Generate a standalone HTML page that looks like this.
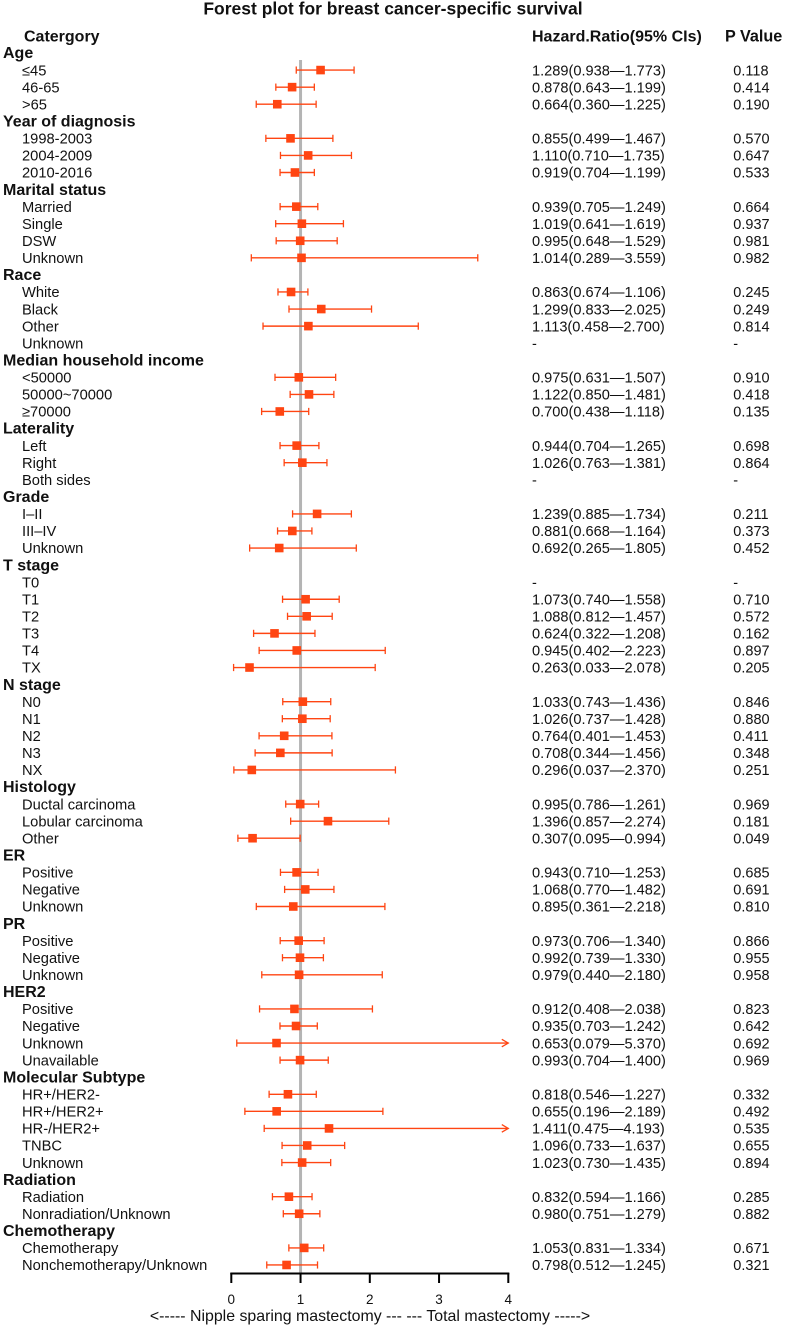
<!DOCTYPE html>
<html lang="en">
<head>
<meta charset="utf-8">
<title>Forest plot for breast cancer-specific survival</title>
<style>
html,body{margin:0;padding:0;background:#fff;}
svg{display:block;font-family:"Liberation Sans",Arial,sans-serif;fill:#111;}
</style>
</head>
<body>
<svg id="chart" xmlns="http://www.w3.org/2000/svg" width="785" height="1327" viewBox="0 0 785 1327">
  <text x="393" y="14.5" text-anchor="middle" font-size="17.5" font-weight="bold">Forest plot for breast cancer-specific survival</text>
  <text x="24" y="41.5" font-size="16" font-weight="bold">Catergory</text>
  <text x="532" y="41.5" font-size="16" font-weight="bold">Hazard.Ratio(95% CIs)</text>
  <text x="725" y="41.5" font-size="16.2" font-weight="bold">P Value</text>
  <text x="370" y="1321" text-anchor="middle" font-size="15.9">&lt;----- Nipple sparing mastectomy --- --- Total mastectomy -----&gt;</text>
</svg>
<script>
const categories = ["Age","≤45","46-65",">65","Year of diagnosis","1998-2003","2004-2009","2010-2016","Marital status","Married","Single","DSW","Unknown","Race","White","Black","Other","Unknown","Median household income","<50000","50000~70000","≥70000","Laterality","Left","Right","Both sides","Grade","I–II","III–IV","Unknown","T stage","T0","T1","T2","T3","T4","TX","N stage","N0","N1","N2","N3","NX","Histology","Ductal carcinoma","Lobular carcinoma","Other","ER","Positive","Negative","Unknown","PR","Positive","Negative","Unknown","HER2","Positive","Negative","Unknown","Unavailable","Molecular Subtype","HR+/HER2-","HR+/HER2+","HR-/HER2+","TNBC","Unknown","Radiation","Radiation","Nonradiation/Unknown","Chemotherapy","Chemotherapy","Nonchemotherapy/Unknown"];
const groupHeaderRows = [0,4,8,13,18,22,26,30,37,43,47,51,55,60,66,69];
const hazardRatios = [null,1.289,0.878,0.664,null,0.855,1.110,0.919,null,0.939,1.019,0.995,1.014,null,0.863,1.299,1.113,null,null,0.975,1.122,0.700,null,0.944,1.026,null,null,1.239,0.881,0.692,null,null,1.073,1.088,0.624,0.945,0.263,null,1.033,1.026,0.764,0.708,0.296,null,0.995,1.396,0.307,null,0.943,1.068,0.895,null,0.973,0.992,0.979,null,0.912,0.935,0.653,0.993,null,0.818,0.655,1.411,1.096,1.023,null,0.832,0.980,null,1.053,0.798];
const ciLower = [null,0.938,0.643,0.360,null,0.499,0.710,0.704,null,0.705,0.641,0.648,0.289,null,0.674,0.833,0.458,null,null,0.631,0.850,0.438,null,0.704,0.763,null,null,0.885,0.668,0.265,null,null,0.740,0.812,0.322,0.402,0.033,null,0.743,0.737,0.401,0.344,0.037,null,0.786,0.857,0.095,null,0.710,0.770,0.361,null,0.706,0.739,0.440,null,0.408,0.703,0.079,0.704,null,0.546,0.196,0.475,0.733,0.730,null,0.594,0.751,null,0.831,0.512];
const ciUpper = [null,1.773,1.199,1.225,null,1.467,1.735,1.199,null,1.249,1.619,1.529,3.559,null,1.106,2.025,2.700,null,null,1.507,1.481,1.118,null,1.265,1.381,null,null,1.734,1.164,1.805,null,null,1.558,1.457,1.208,2.223,2.078,null,1.436,1.428,1.453,1.456,2.370,null,1.261,2.274,0.994,null,1.253,1.482,2.218,null,1.340,1.330,2.180,null,2.038,1.242,5.370,1.400,null,1.227,2.189,4.193,1.637,1.435,null,1.166,1.279,null,1.334,1.245];
const pValues = [null,0.118,0.414,0.190,null,0.570,0.647,0.533,null,0.664,0.937,0.981,0.982,null,0.245,0.249,0.814,null,null,0.910,0.418,0.135,null,0.698,0.864,null,null,0.211,0.373,0.452,null,null,0.710,0.572,0.162,0.897,0.205,null,0.846,0.880,0.411,0.348,0.251,null,0.969,0.181,0.049,null,0.685,0.691,0.810,null,0.866,0.955,0.958,null,0.823,0.642,0.692,0.969,null,0.332,0.492,0.535,0.655,0.894,null,0.285,0.882,null,0.671,0.321];
const xTicks = [0,1,2,3,4];

const xScale = v => 231.3 + v * 69.25;
const yScale = i => 53 + i * 17.07;
const axisMax = xTicks[xTicks.length - 1];
const accent = "#ff4512";
const ns = "http://www.w3.org/2000/svg";
const svg = document.getElementById("chart");

function make(tag, attrs, content) {
  const el = document.createElementNS(ns, tag);
  for (const k in attrs) el.setAttribute(k, attrs[k]);
  if (content !== undefined) el.textContent = content;
  svg.appendChild(el);
  return el;
}

const refLine = make("line", {x1: xScale(1), x2: xScale(1), y1: 60, y2: 1274, stroke: "#b4b4b4", "stroke-width": 3});



categories.forEach((name, i) => {
  const y = yScale(i);
  const isGroup = groupHeaderRows.includes(i);
  const label = make("text", {x: isGroup ? 3 : 22, y: y + 5.2, "font-size": isGroup ? 16 : 14.7, "font-weight": isGroup ? "bold" : "normal"}, name);
  
  
  if (isGroup) return;

  const hr = hazardRatios[i];
  const hrText = make("text", {x: 532, y: y + 5.2, "font-size": 14.6}, hr === null ? "-" : hr.toFixed(3) + "(" + ciLower[i].toFixed(3) + "—" + ciUpper[i].toFixed(3) + ")");
  
  
  const pText = make("text", {x: 733.3, y: y + 5.2, "font-size": 14.5}, pValues[i] === null ? "-" : pValues[i].toFixed(3));
  
  
  if (hr === null) return;

  const x0 = xScale(ciLower[i]);
  const clipped = ciUpper[i] > axisMax;
  const x1 = xScale(Math.min(ciUpper[i], axisMax));
  const ciLine = make("line", {x1: x0, x2: x1, y1: y, y2: y, stroke: accent, "stroke-width": 1.4});
  
  
  const lowCap = make("line", {x1: x0, x2: x0, y1: y - 3.6, y2: y + 3.6, stroke: accent, "stroke-width": 1.3});
  
  
  if (clipped) {
    const arrow = make("path", {d: "M" + (x1 - 6.5) + " " + (y - 3.8) + "L" + x1 + " " + y + "L" + (x1 - 6.5) + " " + (y + 3.8), fill: "none", stroke: accent, "stroke-width": 1.3});
    
    
  } else {
    const highCap = make("line", {x1: x1, x2: x1, y1: y - 3.6, y2: y + 3.6, stroke: accent, "stroke-width": 1.3});
    
    
  }
  const point = make("rect", {x: xScale(hr) - 4.3, y: y - 4.3, width: 8.6, height: 8.6, fill: accent});
  
  
});

const axisLine = make("line", {x1: xScale(xTicks[0]) - 1, x2: xScale(axisMax) + 1, y1: 1273.5, y2: 1273.5, stroke: "#000", "stroke-width": 2});


xTicks.forEach(t => {
  const tick = make("line", {x1: xScale(t), x2: xScale(t), y1: 1273, y2: 1283, stroke: "#000", "stroke-width": 2});
  
  
  const tickLabel = make("text", {x: xScale(t), y: 1304, "text-anchor": "middle", "font-size": 13.5}, String(t));
  
  
});
</script>
</body>
</html>
